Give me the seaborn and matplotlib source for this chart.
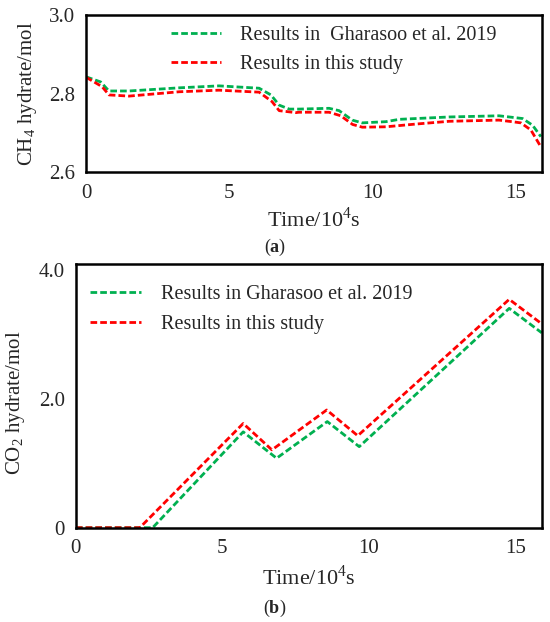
import pandas as pd
import matplotlib
matplotlib.use("Agg")
import matplotlib.pyplot as plt
import seaborn as sns

# CH4 hydrate, panel (a)
ch4_t_ref = [0.0, 0.51, 0.80, 1.50, 3.25, 4.64, 6.04, 6.45, 6.74, 7.09, 7.43, 8.48,
             8.83, 9.29, 9.63, 10.46, 10.93, 12.67, 14.41, 15.0, 15.23, 15.58, 15.87]
ch4_ref = [2.843, 2.830, 2.807, 2.807, 2.815, 2.820, 2.814, 2.797, 2.771, 2.761, 2.761, 2.763,
           2.757, 2.733, 2.726, 2.729, 2.735, 2.741, 2.744, 2.739, 2.737, 2.720, 2.691]
ch4_t_this = [0.0, 0.56, 0.80, 1.50, 3.25, 4.64, 6.04, 6.49, 6.74, 7.32, 7.43, 8.48,
              8.89, 9.30, 9.64, 10.46, 11.51, 12.67, 14.41, 14.87, 15.17, 15.52, 15.87]
ch4_this = [2.842, 2.818, 2.797, 2.794, 2.805, 2.809, 2.804, 2.780, 2.757, 2.752, 2.753, 2.753,
            2.744, 2.722, 2.715, 2.716, 2.723, 2.730, 2.733, 2.729, 2.726, 2.708, 2.665]

# CO2 hydrate, panel (b)
co2_t_ref = [0.0, 2.62, 5.71, 6.85, 8.58, 9.67, 14.79, 15.9]
co2_ref = [0.0, 0.0, 1.49, 1.08, 1.65, 1.26, 3.41, 3.03]
co2_t_this = [0.0, 2.18, 5.71, 6.69, 8.56, 9.62, 14.79, 15.84]
co2_this = [0.0, 0.0, 1.62, 1.21, 1.83, 1.43, 3.55, 3.19]

GREEN = "#00B050"
RED = "#FF0000"

sns.set_style("white")
plt.rcParams["font.family"] = ["Liberation Serif", "DejaVu Serif"]
plt.rcParams["mathtext.fontset"] = "custom"
plt.rcParams["mathtext.rm"] = "Liberation Serif"
plt.rcParams["mathtext.bf"] = "Liberation Serif:bold"

fig = plt.figure(figsize=(5.5, 6.22), dpi=100)
ax1 = fig.add_axes([0.1564, 0.7227, 0.985 - 0.1564, 0.9759 - 0.7227])
ax2 = fig.add_axes([0.138, 0.1516, 0.985 - 0.138, 0.5756 - 0.1516])

dash = (0, (2.4, 1.1))
lw = 2.0
df_a1 = pd.DataFrame({"t": ch4_t_ref, "v": ch4_ref})
df_a2 = pd.DataFrame({"t": ch4_t_this, "v": ch4_this})
sns.lineplot(data=df_a1, x="t", y="v", ax=ax1, color=GREEN, linestyle=dash, lw=lw,
             label="Results in  Gharasoo et al. 2019")
sns.lineplot(data=df_a2, x="t", y="v", ax=ax1, color=RED, linestyle=dash, lw=lw,
             label="Results in this study")

df_b1 = pd.DataFrame({"t": co2_t_ref, "v": co2_ref})
df_b2 = pd.DataFrame({"t": co2_t_this, "v": co2_this})
sns.lineplot(data=df_b1, x="t", y="v", ax=ax2, color=GREEN, linestyle=dash, lw=lw,
             label="Results in Gharasoo et al. 2019")
sns.lineplot(data=df_b2, x="t", y="v", ax=ax2, color=RED, linestyle=dash, lw=lw,
             label="Results in this study")

ax1.set_xlim(0, 15.9)
ax1.set_ylim(2.6, 3.0)
ax1.set_xticks([0, 5, 10, 15])
ax1.set_yticks([2.6, 2.8, 3.0])
ax1.set_yticklabels(["2.6", "2.8", "3.0"])
ax1.set_ylabel(r"CH$_\mathregular{4}$ hydrate/mol", fontsize=15)

ax2.set_xlim(0, 15.9)
ax2.set_ylim(0, 4.1)
ax2.set_xticks([0, 5, 10, 15])
ax2.set_yticks([0, 2, 4])
ax2.set_yticklabels(["0", "2.0", "4.0"])
ax2.set_ylabel(r"CO$_\mathregular{2}$ hydrate/mol", fontsize=15)

for ax, lp in ((ax1, 3.5), (ax2, 5.5)):
    ax.set_xlabel(r"Time/10$^\mathregular{4}$s", fontsize=16, labelpad=lp)
    ax.tick_params(length=0, labelsize=15, pad=8)
    for s in ax.spines.values():
        s.set_color("black")
        s.set_linewidth(1.8)

ax1.yaxis.set_label_coords(-0.104, 0.5)
ax2.yaxis.set_label_coords(-0.105, 0.475)

ax1.legend(loc="upper left", bbox_to_anchor=(0.1645, 0.992), frameon=False, fontsize=14.5,
           borderpad=0, handlelength=2.5, handletextpad=0.92, labelspacing=0.49)
ax2.legend(loc="upper left", bbox_to_anchor=(0.009, 0.96), frameon=False, fontsize=14.5,
           borderpad=0, handlelength=2.5, handletextpad=1.0, labelspacing=0.58)

fig.text(0.5, 1 - 247 / 622, r"($\mathbf{a}$)", ha="center", va="center", fontsize=13)
fig.text(0.5, 1 - 608 / 622, r"($\mathbf{b}$)", ha="center", va="center", fontsize=13)

fig.savefig("out.png", dpi=100)
